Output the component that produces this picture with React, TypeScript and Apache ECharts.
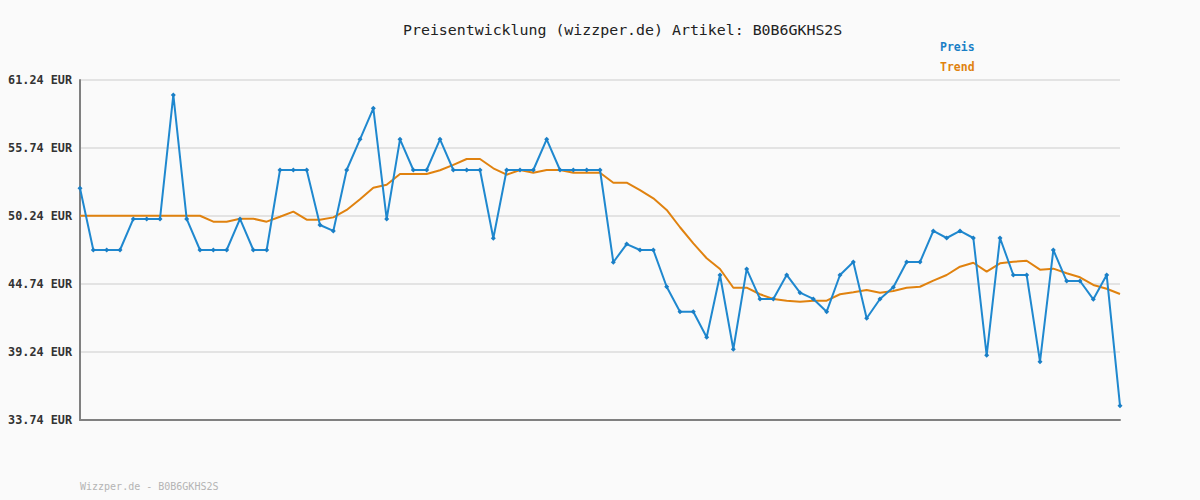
import React, { useEffect, useRef } from "react";
import * as echarts from "echarts";

const BASE = 33.74;
const STEP = 5.5;

const preis = [
  52.48, 47.49, 47.49, 47.49, 50.0, 50.0, 50.0, 60.03, 50.0, 47.49,
  47.49, 47.49, 50.0, 47.49, 47.49, 53.96, 53.96, 53.96, 49.51, 49.03,
  53.96, 56.44, 58.95, 50.0, 56.44, 53.96, 53.96, 56.44, 53.96, 53.96,
  53.96, 48.44, 53.96, 53.96, 53.96, 56.44, 53.96, 53.96, 53.96, 53.96,
  46.5, 47.97, 47.49, 47.49, 44.52, 42.5, 42.5, 40.43, 45.47, 39.46,
  45.95, 43.53, 43.53, 45.47, 44.04, 43.53, 42.5, 45.47, 46.52, 41.97,
  43.53, 44.47, 46.52, 46.52, 49.03, 48.46, 49.03, 48.46, 38.97, 48.46,
  45.47, 45.47, 38.46, 47.49, 44.98, 44.98, 43.5, 45.47, 34.9,
];

const trend = [
  50.26, 50.26, 50.26, 50.26, 50.26, 50.26, 50.26, 50.26, 50.26, 50.26,
  49.78, 49.78, 50.02, 50.02, 49.78, 50.18, 50.59, 49.94, 49.94, 50.13,
  50.73, 51.59, 52.53, 52.77, 53.64, 53.64, 53.64, 53.94, 54.37, 54.85,
  54.85, 54.1, 53.58, 53.96, 53.74, 53.96, 53.96, 53.74, 53.74, 53.74,
  52.93, 52.93, 52.34, 51.67, 50.73, 49.33, 48.03, 46.82, 45.95, 44.44,
  44.44, 43.91, 43.53, 43.39, 43.31, 43.39, 43.39, 43.91, 44.07, 44.25,
  44.04, 44.17, 44.44, 44.52, 45.01, 45.47, 46.14, 46.46, 45.74, 46.41,
  46.54, 46.62, 45.9, 45.98, 45.61, 45.28, 44.66, 44.36, 43.93,
];

const categories = preis.map((_, i) => String(i + 1));

const TITLE = "Preisentwicklung (wizzper.de) Artikel: B0B6GKHS2S";
const FOOTER = "Wizzper.de - B0B6GKHS2S";
const MONO = "'DejaVu Sans Mono', 'Liberation Mono', monospace";

export default function App() {
  const ref = useRef<HTMLDivElement>(null);
  useEffect(() => {
    if (!ref.current) return;
    const chart = echarts.init(ref.current, undefined, { renderer: "svg" });
    chart.setOption({
      animation: false,
      backgroundColor: "#fafafa",
      title: {
        text: TITLE,
        left: 398,
        top: 17,
        textStyle: { fontFamily: MONO, fontSize: 14.9, fontWeight: "normal", color: "#222" },
      },
      graphic: [
        { type: "text", left: 940, top: 41, style: { text: "Preis", fill: "#1a7fc6", font: `bold 11.5px ${MONO}` } },
        { type: "text", left: 940, top: 61, style: { text: "Trend", fill: "#e0820f", font: `bold 11.5px ${MONO}` } },
        { type: "text", left: 80, top: 481, style: { text: FOOTER, fill: "#b4b4b4", font: `10px ${MONO}` } },
      ],
      grid: { left: 80, right: 80, top: 80, bottom: 80, containLabel: false },
      xAxis: {
        type: "category",
        data: categories,
        boundaryGap: false,
        axisLine: { show: true, lineStyle: { color: "#808080", width: 2 } },
        axisTick: { show: false },
        axisLabel: { show: false },
        splitLine: { show: false },
      },
      yAxis: {
        type: "value",
        min: 0,
        max: 5 * STEP,
        interval: STEP,
        axisLine: { show: true, lineStyle: { color: "#808080", width: 2 } },
        axisTick: { show: false },
        axisLabel: {
          margin: 8,
          fontFamily: MONO,
          fontSize: 11.8,
          fontWeight: "bold",
          color: "#333",
          formatter: (v: number) => (v + BASE).toFixed(2) + " EUR",
        },
        splitLine: { show: true, lineStyle: { color: "#e3e3e3", width: 2 } },
      },
      series: [
        {
          name: "Trend",
          type: "line",
          data: trend.map((v) => +(v - BASE).toFixed(2)),
          symbol: "none",
          lineStyle: { color: "#e0820f", width: 2 },
          z: 2,
        },
        {
          name: "Preis",
          type: "line",
          data: preis.map((v) => +(v - BASE).toFixed(2)),
          symbol: "diamond",
          symbolSize: 5,
          itemStyle: { color: "#1a7fc6" },
          lineStyle: { color: "#1f88cf", width: 2 },
          z: 3,
        },
      ],
    });
    return () => chart.dispose();
  }, []);
  return (
    <div
      ref={ref}
      style={{ position: "fixed", left: 0, top: 0, width: 1200, height: 500 }}
    />
  );
}
